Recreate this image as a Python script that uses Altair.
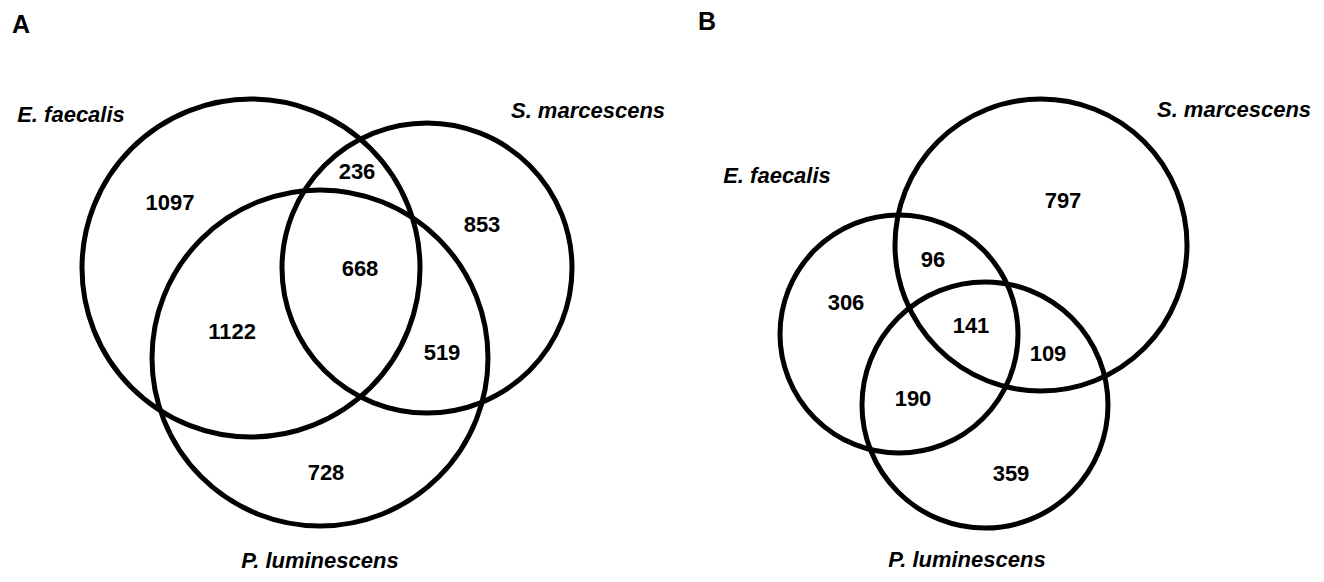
import altair as alt
import pandas as pd

# ---------------- data ----------------
panel_letters = ["A", "B"]
species = ["E. faecalis", "S. marcescens", "P. luminescens"]
regions = ["E only", "E&S", "S only", "E&S&P", "E&P", "S&P", "P only"]
counts_A = [1097, 236, 853, 668, 1122, 519, 728]
counts_B = [306, 96, 797, 141, 190, 109, 359]

# ---------------- layout (page pixel space) ----------------
circle_cx_A = [251, 427, 320]
circle_cy_A = [268, 268, 358]
circle_r_A = [169, 145, 168]
circle_cx_B = [899, 1041, 985]
circle_cy_B = [334, 245, 405]
circle_r_B = [119, 146, 123]

count_x_A = [170, 357, 482, 360, 232, 442, 326]
count_y_A = [203, 172, 225, 269, 332, 353, 473]
count_x_B = [846, 933, 1063, 971, 913, 1048, 1011]
count_y_B = [303, 260, 201, 326, 399, 354, 474]

label_x_A = [71, 588, 320]
label_y_A = [122, 118, 568]
label_x_B = [777, 1234, 967]
label_y_B = [183, 117, 567]

letter_x = [21, 707]
letter_y = [33, 30]

W, H = 1308, 566
FONT = "Liberation Sans"

# ---------------- tables ----------------
circles = pd.DataFrame({
    "panel": ["A"] * 3 + ["B"] * 3,
    "species": species * 2,
    "x": circle_cx_A + circle_cx_B,
    "y": circle_cy_A + circle_cy_B,
    "r": circle_r_A + circle_r_B,
})
circles["size"] = (2 * circles["r"]) ** 2

counts = pd.DataFrame({
    "panel": ["A"] * 7 + ["B"] * 7,
    "region": regions * 2,
    "count": counts_A + counts_B,
    "x": count_x_A + count_x_B,
    "y": count_y_A + count_y_B,
})

labels = pd.DataFrame({
    "panel": ["A"] * 3 + ["B"] * 3,
    "species": species * 2,
    "x": label_x_A + label_x_B,
    "y": label_y_A + label_y_B,
})

letters = pd.DataFrame({"panel": panel_letters, "x": letter_x, "y": letter_y})

xs = alt.Scale(domain=[8, 8 + W], nice=False, zero=False)
ys = alt.Scale(domain=[8, 8 + H], nice=False, zero=False, reverse=True)
X = alt.X("x:Q", scale=xs, axis=None)
Y = alt.Y("y:Q", scale=ys, axis=None)

circle_layer = alt.Chart(circles).mark_point(
    shape="circle", filled=False, color="black", strokeWidth=5, opacity=1
).encode(x=X, y=Y, size=alt.Size("size:Q", scale=None, legend=None))

count_layer = alt.Chart(counts).mark_text(
    font=FONT, fontWeight="bold", fontSize=22, align="center", baseline="middle", color="black"
).encode(x=X, y=Y, text=alt.Text("count:Q", format="d"))

label_layer = alt.Chart(labels).mark_text(
    font=FONT, fontWeight="bold", fontStyle="italic", fontSize=22, align="center",
    baseline="alphabetic", color="black"
).encode(x=X, y=Y, text="species:N")

letter_layer = alt.Chart(letters).mark_text(
    font=FONT, fontWeight="bold", fontSize=25, align="center", baseline="alphabetic", color="black"
).encode(x=X, y=Y, text="panel:N")

chart = alt.layer(circle_layer, count_layer, label_layer, letter_layer).properties(
    width=W, height=H, autosize=alt.AutoSizeParams(type="none"), padding=0, background="white"
).configure_view(stroke=None)

chart.save("out.html", embed_options={"renderer": "svg", "actions": False})
